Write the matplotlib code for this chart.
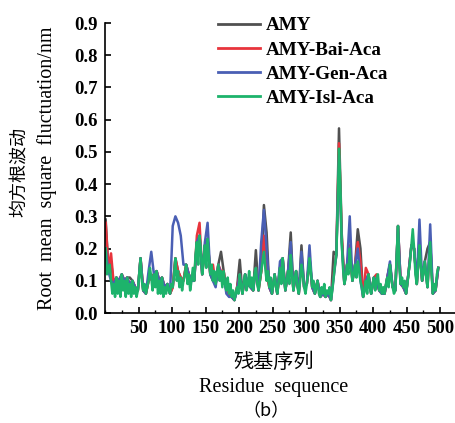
import matplotlib
matplotlib.use("Agg")
import matplotlib.pyplot as plt
from matplotlib.ticker import MultipleLocator

# Residue positions
residues_fine = list(range(1, 498, 2))    # AMY-Isl-Aca sampled every 2 residues
residues = list(range(1, 498, 4))         # other systems sampled every 4 residues

amy_isl = [0.20, 0.12, 0.14, 0.15, 0.10, 0.06, 0.09, 0.05, 0.11, 0.06,
           0.10, 0.05, 0.12, 0.07, 0.10, 0.05, 0.11, 0.06, 0.09, 0.05,
           0.10, 0.06, 0.08, 0.05, 0.07, 0.12, 0.17, 0.10, 0.07, 0.09,
           0.06, 0.08, 0.10, 0.14, 0.11, 0.07, 0.12, 0.08, 0.13, 0.06,
           0.10, 0.06, 0.11, 0.05, 0.08, 0.06, 0.09, 0.07, 0.06, 0.09,
           0.08, 0.12, 0.17, 0.10, 0.13, 0.08, 0.11, 0.07, 0.10, 0.12,
           0.15, 0.09, 0.12, 0.07, 0.10, 0.14, 0.10, 0.18, 0.22, 0.15,
           0.24, 0.19, 0.12, 0.16, 0.21, 0.14, 0.23, 0.17, 0.12, 0.15,
           0.10, 0.13, 0.09, 0.12, 0.15, 0.10, 0.13, 0.08, 0.13, 0.09,
           0.07, 0.11, 0.06, 0.09, 0.05, 0.07, 0.04, 0.06, 0.08, 0.06,
           0.12, 0.08, 0.06, 0.10, 0.12, 0.07, 0.09, 0.13, 0.08, 0.11,
           0.07, 0.12, 0.14, 0.09, 0.07, 0.10, 0.13, 0.16, 0.19, 0.14,
           0.10, 0.13, 0.08, 0.11, 0.06, 0.09, 0.12, 0.08, 0.06, 0.10,
           0.14, 0.09, 0.17, 0.11, 0.07, 0.10, 0.13, 0.09, 0.18, 0.12,
           0.07, 0.11, 0.13, 0.08, 0.06, 0.10, 0.15, 0.12, 0.08, 0.06,
           0.09, 0.12, 0.17, 0.13, 0.08, 0.10, 0.06, 0.08, 0.10, 0.06,
           0.05, 0.08, 0.06, 0.09, 0.05, 0.07, 0.06, 0.08, 0.04, 0.07,
           0.11, 0.15, 0.18, 0.32, 0.51, 0.40, 0.22, 0.14, 0.09, 0.11,
           0.15, 0.12, 0.20, 0.14, 0.10, 0.12, 0.15, 0.11, 0.16, 0.13,
           0.10, 0.08, 0.05, 0.07, 0.10, 0.06, 0.12, 0.08, 0.06, 0.09,
           0.11, 0.07, 0.10, 0.12, 0.07, 0.09, 0.06, 0.08, 0.06, 0.09,
           0.11, 0.08, 0.15, 0.11, 0.08, 0.06, 0.07, 0.18, 0.27, 0.14,
           0.09, 0.11, 0.08, 0.10, 0.06, 0.09, 0.13, 0.16, 0.21, 0.26,
           0.20, 0.12, 0.09, 0.14, 0.21, 0.15, 0.10, 0.13, 0.16, 0.11,
           0.08, 0.15, 0.22, 0.12, 0.06, 0.09, 0.07, 0.12, 0.14]

amy = [0.29, 0.14, 0.16, 0.09, 0.11, 0.10, 0.12, 0.10, 0.11, 0.11,
       0.10, 0.08, 0.07, 0.17, 0.07, 0.06, 0.10, 0.11, 0.12, 0.13,
       0.10, 0.11, 0.08, 0.09, 0.06, 0.08, 0.17, 0.13, 0.11, 0.10,
       0.15, 0.12, 0.10, 0.10, 0.22, 0.24, 0.12, 0.21, 0.23, 0.12,
       0.10, 0.09, 0.15, 0.19, 0.13, 0.07, 0.06, 0.05, 0.04, 0.08,
       0.165, 0.06, 0.12, 0.09, 0.08, 0.07, 0.195, 0.07, 0.13, 0.335,
       0.25, 0.08, 0.06, 0.12, 0.06, 0.14, 0.17, 0.07, 0.13, 0.25,
       0.07, 0.13, 0.06, 0.21, 0.08, 0.09, 0.17, 0.08, 0.06, 0.10,
       0.05, 0.06, 0.05, 0.06, 0.04, 0.19, 0.18, 0.573, 0.25, 0.09,
       0.15, 0.20, 0.10, 0.15, 0.26, 0.20, 0.05, 0.10, 0.12, 0.06,
       0.11, 0.10, 0.07, 0.06, 0.06, 0.11, 0.15, 0.08, 0.07, 0.27,
       0.09, 0.08, 0.06, 0.13, 0.21, 0.20, 0.09, 0.21, 0.10, 0.16,
       0.20, 0.22, 0.06, 0.07, 0.14]

amy_bai = [0.28, 0.14, 0.185, 0.09, 0.11, 0.10, 0.12, 0.10, 0.11, 0.09,
           0.10, 0.08, 0.07, 0.17, 0.07, 0.06, 0.10, 0.11, 0.12, 0.13,
           0.10, 0.11, 0.08, 0.09, 0.06, 0.08, 0.17, 0.13, 0.11, 0.10,
           0.15, 0.12, 0.10, 0.10, 0.24, 0.28, 0.12, 0.21, 0.23, 0.12,
           0.15, 0.09, 0.15, 0.13, 0.13, 0.07, 0.06, 0.05, 0.04, 0.08,
           0.12, 0.06, 0.12, 0.09, 0.08, 0.07, 0.14, 0.07, 0.13, 0.24,
           0.12, 0.08, 0.06, 0.12, 0.06, 0.14, 0.17, 0.07, 0.13, 0.19,
           0.07, 0.13, 0.06, 0.16, 0.08, 0.09, 0.17, 0.08, 0.06, 0.10,
           0.05, 0.06, 0.05, 0.06, 0.04, 0.12, 0.18, 0.527, 0.24, 0.09,
           0.15, 0.21, 0.10, 0.15, 0.22, 0.16, 0.05, 0.14, 0.12, 0.06,
           0.11, 0.12, 0.07, 0.06, 0.06, 0.11, 0.15, 0.08, 0.07, 0.27,
           0.09, 0.08, 0.06, 0.13, 0.21, 0.20, 0.09, 0.21, 0.10, 0.16,
           0.08, 0.22, 0.06, 0.07, 0.14]

amy_gen = [0.20, 0.13, 0.10, 0.09, 0.11, 0.10, 0.12, 0.10, 0.11, 0.09,
           0.10, 0.08, 0.07, 0.17, 0.07, 0.06, 0.13, 0.19, 0.12, 0.13,
           0.10, 0.11, 0.08, 0.09, 0.06, 0.27, 0.30, 0.28, 0.24, 0.15,
           0.15, 0.12, 0.10, 0.10, 0.22, 0.24, 0.12, 0.22, 0.28, 0.12,
           0.10, 0.08, 0.15, 0.12, 0.12, 0.06, 0.05, 0.05, 0.04, 0.07,
           0.12, 0.06, 0.12, 0.09, 0.08, 0.07, 0.14, 0.07, 0.22, 0.32,
           0.20, 0.08, 0.06, 0.12, 0.06, 0.16, 0.17, 0.07, 0.13, 0.22,
           0.07, 0.13, 0.06, 0.19, 0.08, 0.09, 0.21, 0.08, 0.06, 0.10,
           0.05, 0.06, 0.05, 0.06, 0.04, 0.11, 0.18, 0.49, 0.22, 0.09,
           0.15, 0.30, 0.10, 0.15, 0.20, 0.10, 0.05, 0.10, 0.12, 0.06,
           0.11, 0.10, 0.07, 0.06, 0.06, 0.11, 0.16, 0.08, 0.07, 0.27,
           0.09, 0.08, 0.06, 0.13, 0.21, 0.20, 0.09, 0.29, 0.10, 0.16,
           0.08, 0.275, 0.06, 0.07, 0.14]

series_names = ["AMY", "AMY-Bai-Aca", "AMY-Gen-Aca", "AMY-Isl-Aca"]
series_x = [residues, residues, residues, residues_fine]
series_values = [amy, amy_bai, amy_gen, amy_isl]
series_colors = ["#505050", "#e8343c", "#4a5fb4", "#1db36b"]

x_ticks = [50, 100, 150, 200, 250, 300, 350, 400, 450, 500]
y_ticks = [0.0, 0.1, 0.2, 0.3, 0.4, 0.5, 0.6, 0.7, 0.8, 0.9]

W, H = 456, 423
fig = plt.figure(figsize=(W / 100, H / 100), dpi=100)
ax = fig.add_axes([105 / W, 1 - 313 / H, 350 / W, 290 / H])

for name, xs, vals, col in zip(series_names, series_x, series_values, series_colors):
    ax.plot(xs, vals, color=col, lw=1.8, label=name, solid_joinstyle="round")

ax.set_xlim(0, 522)
ax.set_ylim(0, 0.9)
ax.set_xticks(x_ticks)
ax.set_yticks(y_ticks)
ax.set_yticklabels([f"{v:.1f}" for v in y_ticks])
ax.xaxis.set_minor_locator(MultipleLocator(25))
for s in ["top", "right"]:
    ax.spines[s].set_visible(False)
for s in ["left", "bottom"]:
    ax.spines[s].set_linewidth(1.2)
ax.tick_params(which="major", direction="in", length=4, width=1.2, pad=5)
ax.tick_params(which="minor", direction="in", length=2, width=1.0)
for lab in ax.get_xticklabels() + ax.get_yticklabels():
    lab.set_fontfamily("Liberation Serif")
    lab.set_fontweight("bold")
    lab.set_fontsize(13.5)

leg = ax.legend(loc="upper left", bbox_to_anchor=(218 / W, 1 - 17 / H),
                bbox_transform=fig.transFigure, frameon=False,
                prop={"family": "Liberation Serif", "weight": "bold", "size": 13.8},
                handlelength=2.2, handletextpad=0.3, labelspacing=0.35,
                borderpad=0, borderaxespad=0)
for ln in leg.get_lines():
    ln.set_linewidth(2.0)

fig.text(20 / W, 1 - 172 / H, "均方根波动", rotation=90, ha="center", va="center",
         family="Noto Sans CJK SC", fontsize=13)
fig.text(47 / W, 1 - 168 / H, "Root  mean  square  fluctuation/nm", rotation=90,
         ha="center", va="center", family="Liberation Serif", fontsize=14.5)
fig.text(274 / W, 1 - 362 / H, "残基序列", ha="center", va="center",
         family="Noto Sans CJK SC", fontsize=14.5)
fig.text(274 / W, 1 - 387 / H, "Residue  sequence", ha="center", va="center",
         family="Liberation Serif", fontsize=14.5)
fig.text(266 / W, 1 - 411 / H, "（b）", ha="center", va="center",
         family="Noto Sans CJK SC", fontsize=13)

fig.savefig("out.png", dpi=100)
